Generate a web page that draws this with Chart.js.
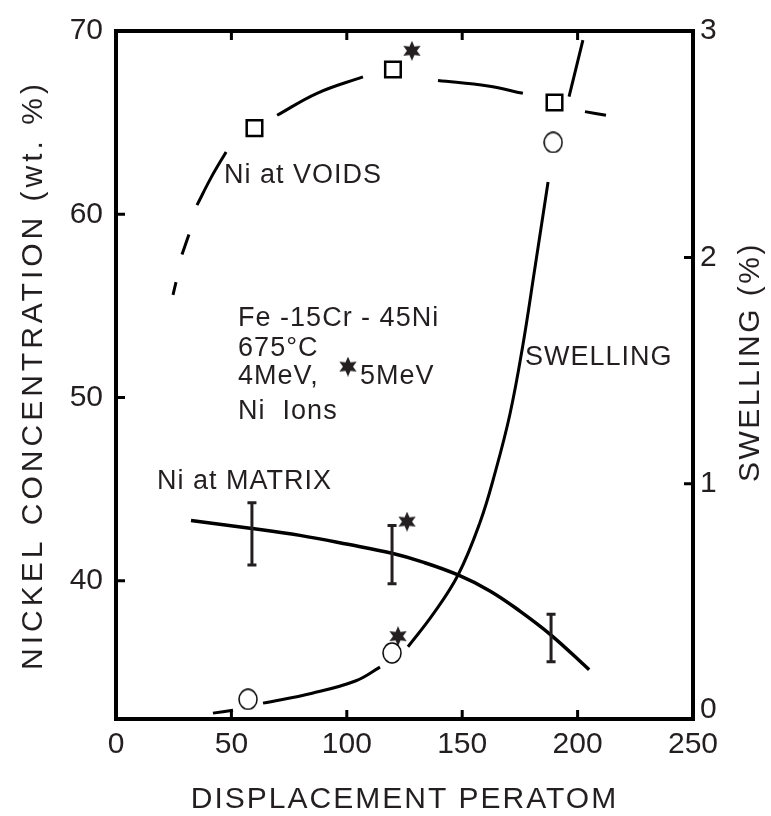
<!DOCTYPE html>
<html>
<head>
<meta charset="utf-8">
<script src="https://cdn.jsdelivr.net/npm/chart.js@4.4.1/dist/chart.umd.min.js"></script>
<style>
  html, body { margin: 0; padding: 0; background: #fff; }
  #wrap { width: 771px; height: 816px; }
</style>
</head>
<body>
<div id="wrap"><canvas id="chart" width="771" height="816"></canvas></div>
<script>
// tick labels
const xTicks = [0, 50, 100, 150, 200, 250];
const niTicks = [40, 50, 60, 70];
const swellTicks = [0, 1, 2, 3];

// Ni at voids (open squares) and its broken dashed trend (null = gap)
const voidDpa = [60, 120, 190];
const voidNi = [64.7, 67.9, 66.1];
const voidLineDpa = [24.7, 26, null, 28.6, 31.6, null, 35.1, 41.2, 47.7, null, 69.8, 87.1, 107, null, 139.5, 161.2, 176.3, null, 203.2, 212.3];
const voidLineNi  = [55.6, 56.3, null, 57.8, 58.9, null, 60.5, 62.0, 63.4, null, 65.4, 66.6, 67.5, null, 67.3, 67.0, 66.6, null, 65.6, 65.4];

// Ni at matrix: error bars and trend
const matrixDpa = [58.9, 119.6, 188.5];
const matrixLo = [40.86, 39.84, 35.58];
const matrixHi = [44.26, 43.02, 38.17];
const matrixLineDpa = [32.5, 58.9, 79.7, 100.5, 119.6, 133, 148.2, 162, 175, 188.5, 205];
const matrixLineNi  = [43.29, 42.86, 42.48, 41.99, 41.5, 41.02, 40.32, 39.45, 38.35, 37.04, 35.15];

// swelling (open circles) and trend, right axis
const swellDpa = [57.2, 119.6, 189.4];
const swellPct = [0.048, 0.253, 2.508];
const swellLineDpa = [42, 50.7, null, 63.7, 85, 104, 114.4, null, 126.5, 137.3, 148.2, 157.7, 164.2, 170.7, 176.3, 181.5, 187.2, null, 196.3, 202.3];
const swellLinePct = [-0.013, 0.0, null, 0.031, 0.075, 0.13, 0.19, null, 0.28, 0.423, 0.597, 0.829, 1.047, 1.308, 1.613, 1.953, 2.333, null, 2.71, 2.96];

// 5 MeV points (stars)
const star5Dpa = [128.2, 126.1];
const star5Ni = [68.92, 43.23];
const star5SwDpa = [122.2];
const star5SwPct = [0.327];

const ink = '#231f20';
const font = "'Liberation Sans', Arial, sans-serif";

function pts(xs, ys) {
  return xs.map((x, i) => (x === null ? { x: NaN, y: null } : { x: x, y: ys[i] }));
}

function makeStar(size) {
  const c = document.createElement('canvas');
  c.width = c.height = size;
  const g = c.getContext('2d');
  const r = size / 2, ri = r * 0.5;
  g.beginPath();
  for (let i = 0; i < 12; i++) {
    const a = -Math.PI / 2 + i * Math.PI / 6;
    const rr = i % 2 ? ri : r;
    g.lineTo(r + rr * Math.cos(a), r + rr * Math.sin(a));
  }
  g.closePath();
  g.fillStyle = ink;
  g.fill();
  return c;
}

function makeOval(w, h) {
  const c = document.createElement('canvas');
  c.width = w; c.height = h;
  const g = c.getContext('2d');
  g.beginPath();
  g.ellipse(w / 2, h / 2, w / 2 - 1, h / 2 - 1, 0, 0, Math.PI * 2);
  g.fillStyle = '#fff';
  g.fill();
  g.lineWidth = 1.5;
  g.strokeStyle = '#000';
  g.stroke();
  return c;
}

const starImg = makeStar(20);
const ovalImg = makeOval(20, 22);

// text notes placed in data units
const notes = [
  { text: 'Ni at VOIDS', x: 46.8, y: 62.14 },
  { text: 'Fe -15Cr - 45Ni', x: 52.9, y: 54.33 },
  { text: '675°C', x: 52.9, y: 52.66 },
  { text: '4MeV,', x: 52.9, y: 51.15 },
  { text: '5MeV', x: 105.7, y: 51.15 },
  { text: 'Ni  Ions', x: 52.9, y: 49.26 },
  { text: 'Ni at MATRIX', x: 17.8, y: 45.44 },
  { text: 'SWELLING', x: 177.2, y: 52.17 }
];
const keyStar = { x: 100.5, y: 51.69 };

const decor = {
  id: 'decor',
  afterDatasetsDraw(chart) {
    const ctx = chart.ctx, a = chart.chartArea;
    const x = chart.scales.x, yn = chart.scales.yNi, ys = chart.scales.ySw;
    ctx.save();

    // error bars
    ctx.strokeStyle = ink;
    ctx.lineWidth = 3;
    matrixDpa.forEach((d, i) => {
      const px = x.getPixelForValue(d);
      const t = yn.getPixelForValue(matrixHi[i]), b = yn.getPixelForValue(matrixLo[i]);
      ctx.beginPath();
      ctx.moveTo(px, t); ctx.lineTo(px, b);
      ctx.moveTo(px - 4.5, t); ctx.lineTo(px + 4.5, t);
      ctx.moveTo(px - 4.5, b); ctx.lineTo(px + 4.5, b);
      ctx.stroke();
    });

    // frame and inward ticks
    ctx.lineWidth = 4;
    ctx.strokeStyle = '#000';
    ctx.strokeRect(a.left, a.top, a.right - a.left, a.bottom - a.top);
    ctx.lineWidth = 3;
    ctx.beginPath();
    [50, 100, 150, 200].forEach(v => {
      const px = x.getPixelForValue(v);
      ctx.moveTo(px, a.bottom); ctx.lineTo(px, a.bottom - 9);
      ctx.moveTo(px, a.top); ctx.lineTo(px, a.top + 9);
    });
    [40, 50, 60].forEach(v => {
      const py = yn.getPixelForValue(v);
      ctx.moveTo(a.left, py); ctx.lineTo(a.left + 9, py);
    });
    [1, 2].forEach(v => {
      const py = ys.getPixelForValue(v);
      ctx.moveTo(a.right, py); ctx.lineTo(a.right - 9, py);
    });
    ctx.stroke();

    // notes
    ctx.fillStyle = ink;
    ctx.font = '27px ' + font;
    ctx.textBaseline = 'middle';
    ctx.textAlign = 'left';
    ctx.letterSpacing = '1px';
    notes.forEach(n => {
      ctx.fillText(n.text, x.getPixelForValue(n.x), yn.getPixelForValue(n.y));
    });
    ctx.drawImage(starImg, x.getPixelForValue(keyStar.x) - 10, yn.getPixelForValue(keyStar.y) - 10);

    // axis titles
    ctx.font = '30px ' + font;
    ctx.textAlign = 'center';
    ctx.letterSpacing = '2px';
    ctx.fillText('DISPLACEMENT PERATOM', (a.left + a.right) / 2, 800);

    ctx.save();
    ctx.translate(34, (a.top + a.bottom) / 2);
    ctx.rotate(-Math.PI / 2);
    ctx.letterSpacing = '4px';
    ctx.fillText('NICKEL CONCENTRATION (wt. %)', 0, 0);
    ctx.restore();

    ctx.save();
    ctx.translate(751, 362);
    ctx.rotate(-Math.PI / 2);
    ctx.letterSpacing = '2.5px';
    ctx.fillText('SWELLING (%)', 0, 0);
    ctx.restore();

    ctx.letterSpacing = '0px';
    ctx.restore();
  }
};

const lineBase = {
  type: 'line',
  borderColor: '#000',
  pointRadius: 0,
  fill: false,
  spanGaps: false,
  tension: 0.4
};

const config = {
  type: 'scatter',
  data: {
    datasets: [
      Object.assign({}, lineBase, { label: 'Ni at voids trend', data: pts(voidLineDpa, voidLineNi), yAxisID: 'yNi', borderWidth: 3 }),
      Object.assign({}, lineBase, { label: 'Ni at matrix trend', data: pts(matrixLineDpa, matrixLineNi), yAxisID: 'yNi', borderWidth: 3.5 }),
      Object.assign({}, lineBase, { label: 'Swelling trend', data: pts(swellLineDpa, swellLinePct), yAxisID: 'ySw', borderWidth: 3 }),
      {
        label: 'Ni at voids',
        data: pts(voidDpa, voidNi),
        yAxisID: 'yNi',
        pointStyle: 'rect',
        pointRadius: 11,
        borderWidth: 2.5,
        borderColor: '#000',
        backgroundColor: '#fff'
      },
      {
        label: 'Swelling',
        data: pts(swellDpa, swellPct),
        yAxisID: 'ySw',
        pointStyle: ovalImg,
        pointRadius: 10
      },
      {
        label: '5MeV Ni',
        data: pts(star5Dpa, star5Ni),
        yAxisID: 'yNi',
        pointStyle: starImg,
        pointRadius: 10
      },
      {
        label: '5MeV swelling',
        data: pts(star5SwDpa, star5SwPct),
        yAxisID: 'ySw',
        pointStyle: starImg,
        pointRadius: 10
      }
    ]
  },
  options: {
    responsive: false,
    animation: false,
    layout: { padding: { top: 22, left: 0, right: 0, bottom: 0 } },
    plugins: {
      legend: { display: false },
      tooltip: { enabled: false },
      title: { display: false }
    },
    elements: { line: { borderCapStyle: 'butt' } },
    scales: {
      x: {
        type: 'linear',
        position: 'bottom',
        min: 0,
        max: 250,
        grid: { display: false, drawTicks: false },
        border: { display: false },
        ticks: { color: ink, font: { family: font, size: 30 }, padding: 8, maxRotation: 0 },
        afterBuildTicks: s => { s.ticks = xTicks.map(v => ({ value: v })); },
        afterFit: s => { s.height = 97; }
      },
      yNi: {
        type: 'linear',
        position: 'left',
        min: 32.46,
        max: 70,
        grid: { display: false, drawTicks: false },
        border: { display: false },
        ticks: { color: ink, font: { family: font, size: 30 }, padding: 13 },
        afterBuildTicks: s => { s.ticks = niTicks.map(v => ({ value: v })); },
        afterFit: s => { s.width = 116; }
      },
      ySw: {
        type: 'linear',
        position: 'right',
        min: -0.039,
        max: 3,
        grid: { display: false, drawTicks: false },
        border: { display: false },
        ticks: { color: ink, font: { family: font, size: 30 }, padding: 7 },
        afterBuildTicks: s => { s.ticks = swellTicks.map(v => ({ value: v })); },
        afterFit: s => { s.width = 78; }
      }
    }
  },
  plugins: [decor]
};

const chart = new Chart(document.getElementById('chart'), config);
</script>
</body>
</html>
